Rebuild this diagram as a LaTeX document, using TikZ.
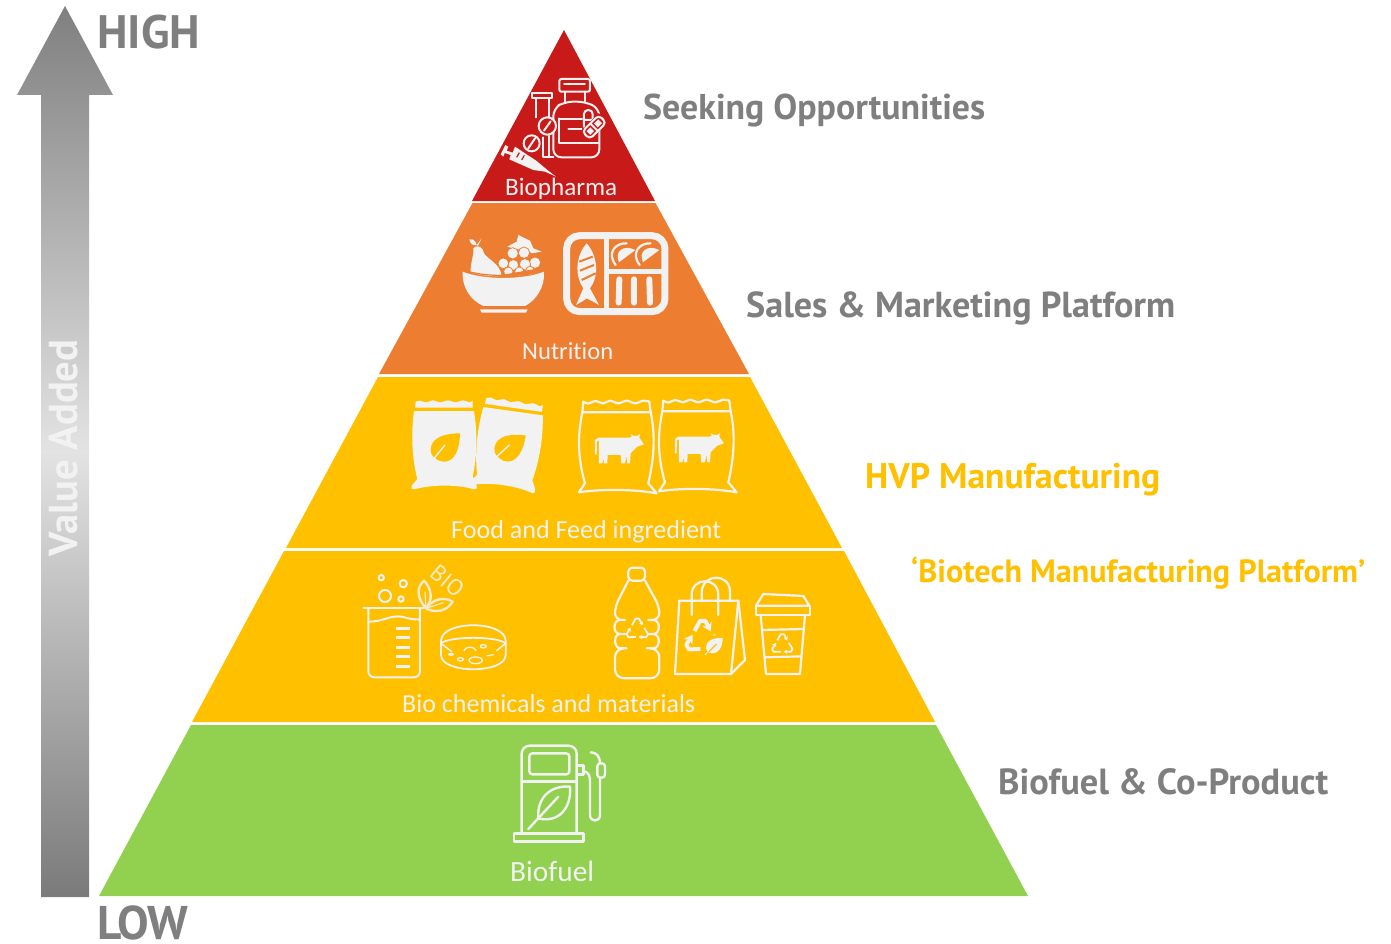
\documentclass[tikz,border=0pt]{standalone}
\usepackage{graphicx}
\usepackage{fontspec}
\setmainfont{PT Sans}
\newfontfamily\thinf[Ligatures=NoCommon]{Carlito}
\usetikzlibrary{arrows.meta}
\definecolor{pred}{HTML}{C81A19}
\definecolor{porange}{HTML}{ED7D31}
\definecolor{pyellow}{HTML}{FFC000}
\definecolor{pgreen}{HTML}{92D050}
\definecolor{ink}{HTML}{F2F2F2}
\definecolor{lab}{HTML}{7F7F7F}
\newcommand\fitw[2]{\resizebox{#1pt}{!}{#2}}
\newcommand\recyc[4]{\foreach \a in {0,120,240}{\draw[ink,shift={(#1,#2)},rotate=\a,line width=#4pt,line join=round,-{Stealth[length=#4*2.1pt,width=#4*2.6pt]}] ({-.42*#3},{-.38*#3}) -- ({-.14*#3},{-.9*#3}) -- ({.14*#3},{-.9*#3}) -- ({.42*#3},{-.36*#3});}}
\newcommand\zoomscope[2]{\begin{scope}[shift={(#1,#2)},x=0.3333pt,y=-0.3333pt]}
\tikzset{
  tier/.style={draw=none},
  inner/.style={text=ink,inner sep=0pt,anchor=base west,font=\thinf\fontsize{26}{26}\selectfont},
  side/.style={text=lab,inner sep=0pt,anchor=base west,font=\bfseries\fontsize{34}{34}\selectfont},
  sidey/.style={side,text=pyellow},
  ic/.style={draw=ink,line width=#1,line cap=round,line join=round,fill=none},
  ic/.default=2pt,
  icf/.style={fill=ink,draw=none}
}
\begin{document}
\begin{tikzpicture}[x=1pt,y=-1pt]
\useasboundingbox (0,0) rectangle (1391,944);
\fill[white] (0,0) rectangle (1391,944);
% arrow
\shade[top color=black!50,bottom color=black!52,middle color=black!11]
  (65,6) -- (113,95) -- (89,95) -- (89,897) -- (41,897) -- (41,95) -- (17,95) -- cycle;
\node[rotate=90,anchor=base west,inner sep=0pt,text=ink,font=\bfseries\fontsize{34}{34}\selectfont] (valueadded) at (77,557) {\fitw{217}{Value Added}};
\node[side,font=\bfseries\fontsize{44}{44}\selectfont] (high) at (97,49) {\fitw{103}{HIGH}};
\node[side,font=\bfseries\fontsize{44}{44}\selectfont] (low) at (97,939) {\fitw{91}{LOW}};
% tiers
\fill[pred] (564,30) -- (655,201) -- (472,201) -- cycle;
\fill[porange] (472.5,203) -- (655.5,203) -- (749,374) -- (379,374) -- cycle;
\fill[pyellow] (378,377) -- (750,377) -- (842,548) -- (286,548) -- cycle;
\fill[pyellow] (284,551) -- (844,551) -- (935,722) -- (192,722) -- cycle;
\fill[pgreen] (191,725) -- (936,725) -- (1028,896) -- (99,896) -- cycle;
% side labels
\node[side] (seek) at (643,120) {\fitw{342}{Seeking Opportunities}};
\node[side] (sales) at (746,317) {\fitw{429}{Sales \& Marketing Platform}};
\node[sidey] (hvp) at (865,488) {\fitw{295}{HVP Manufacturing}};
\node[sidey,font=\bfseries\fontsize{30}{30}\selectfont] (biotech) at (911,582) {\fitw{454}{‘Biotech Manufacturing Platform’}};
\node[side] (biofuelco) at (998,794) {\fitw{330}{Biofuel \& Co-Product}};
% inner labels
\node[inner] (biopharma) at (505,196) {\fitw{112}{Biopharma}};
\node[inner] (nutrition) at (522,359) {\fitw{91}{Nutrition}};
\node[inner] (food) at (451,538) {\fitw{270}{Food and Feed ingredient}};
\node[inner] (biochem) at (402,712) {\fitw{293}{Bio chemicals and materials}};
\node[inner] (biofuel) at (510,881) {\fitw{84}{Biofuel}};

% ---- biopharma icon
\zoomscope{470}{60}
 \draw[ic=2pt,rounded corners=2pt] (268,57) rectangle (360,95);
 \draw[ic=1.6pt] (282,72) -- (345,72);
 \draw[ic=2pt] (285,95) -- (285,125) (345,95) -- (345,125);
 \draw[ic=2pt,rounded corners=8pt] (285,125) -- (250,145) -- (250,292) -- (388,292) -- (388,145) -- (345,125) -- cycle;
 \draw[ic=1.8pt] (268,175) -- (268,250) -- (385,250) (270,178) -- (340,178) (295,207) -- (335,207);
 \draw[ic=2pt] (185,100) rectangle (245,115);
 \draw[ic=2pt] (197,115) -- (197,172) (238,115) -- (238,170) (238,228) -- (238,290) -- (250,290) (218,232) -- (218,290) -- (238,290);
 \fill[pred] (232,198) circle (27);
 \draw[ic=2pt] (232,198) circle (26) (222,212) -- (242,184);
 \fill[pred] (185,250) circle (25);
 \draw[ic=2pt] (185,250) circle (24) (175,265) -- (195,235);
 \fill[pred,rounded corners=3pt] (338,148) rectangle (372,212);
 \draw[ic=2pt,rounded corners=4pt] (342,150) rectangle (368,210) (342,180) -- (368,180);
 \begin{scope}[shift={(372,202)},rotate=45]
  \fill[pred] (-40,-20) rectangle (40,20);
  \draw[ic=2pt,rounded corners=4pt] (-34,-16) rectangle (36,16) (0,-16) -- (0,16);
  \fill[ink] (-24,-8) rectangle (-8,8);
  \fill[ink] (8,-8) rectangle (26,8);
 \end{scope}
 \fill[ink] (92,283) -- (106,255) -- (115,260) -- (110,272) -- (128,278) -- (135,260) -- (200,303) -- (232,330) -- (258,350) -- (225,335) -- (190,330) -- (118,298) -- (122,285) -- (104,279) -- (100,290) -- cycle;
 \draw[pred,line width=1.2pt] (140,292) -- (148,278) (155,300) -- (163,286);
\end{scope}

% ---- nutrition icons
\zoomscope{450}{220}
 \fill[ink] (38,155) .. controls (100,180) and (220,180) .. (282,155) .. controls (285,200) and (260,240) .. (225,258) -- (100,258) .. controls (60,240) and (35,200) .. (38,155) -- cycle;
 \fill[ink] (90,268) -- (233,268) -- (228,278) -- (95,278) -- cycle;
 \fill[ink] (62,158) .. controls (60,130) and (72,110) .. (70,85) .. controls (85,70) and (100,85) .. (102,100) .. controls (115,120) and (150,130) .. (155,168) .. controls (120,170) and (90,165) .. (62,158) -- cycle;
 \fill[ink] (58,58) .. controls (70,55) and (78,65) .. (80,75) .. controls (68,78) and (60,70) .. (58,58) -- cycle (80,75) -- (95,55) -- (84,78) -- cycle;
 \fill[ink] (172,80) -- (200,65) -- (205,45) -- (225,55) -- (240,62) -- (250,85) -- (275,95) -- (245,100) -- (230,88) -- (200,88) -- cycle;
 \foreach \cx/\cy/\r in {188/100/17,222/98/17,255/128/17,225/133/17,190/135/16,160/130/16,175/155/14,208/155/14,240/152/13}
   \filldraw[fill=ink,draw=porange,line width=0.7pt] (\cx,\cy) circle (\r);
 \draw[porange,line width=1.2pt] (40,150) .. controls (100,172) and (220,172) .. (282,150);
 \fill[porange] (150,166) -- (282,142) -- (285,151) .. controls (220,169) and (180,170) .. (150,170) -- cycle;
 \draw[ic=7pt,rounded corners=13pt] (350,47) rectangle (645,275);
 \draw[ink,line width=5pt] (470,47) -- (470,275) (470,155) -- (645,155);
 \fill[ink] (410,70) .. controls (375,110) and (375,170) .. (400,205) -- (378,255) .. controls (395,245) and (405,240) .. (410,235) .. controls (420,240) and (430,245) .. (447,255) -- (420,205) .. controls (447,170) and (445,110) .. (410,70) -- cycle;
 \draw[porange,line width=2pt] (388,125) -- (428,110) (390,152) -- (432,135) (395,180) -- (437,160);
 \foreach \dx in {0,72}{
  \fill[ink,shift={(\dx,0)}] (507,127) .. controls (492,95) and (520,72) .. (556,90) -- cycle;
  \draw[ic=2.2pt,shift={(\dx,0)}] (497,135) .. controls (470,100) and (495,68) .. (530,70);
 }
 \draw[ink,line width=6pt,line cap=round] (508,178) -- (506,248) (552,178) -- (552,248) (598,178) -- (600,248);
\end{scope}

% ---- feed bags
\zoomscope{400}{385}
 \foreach \dx in {0,1}{
 \begin{scope}[shift={(193*\dx,0)},rotate around={-8*\dx:(135,180)}]
  \fill[ink] (45,68) -- plot[smooth] coordinates {(47,50)(60,47)(78,52)(100,46)(120,52)(145,46)(165,52)(190,46)(208,52)(218,47)} -- (218,68) -- cycle;
  \fill[ink] (42,78) -- (222,78) .. controls (232,140) and (232,210) .. (218,275) -- (230,300) .. controls (232,312) and (228,315) .. (222,313) .. controls (170,298) and (100,298) .. (42,313) .. controls (35,315) and (33,310) .. (35,302) -- (52,282) .. controls (35,220) and (33,140) .. (42,78) -- cycle;
  \fill[pyellow] (180,145) .. controls (140,145) and (92,155) .. (92,195) .. controls (92,205) and (95,210) .. (100,215) .. controls (130,245) and (178,235) .. (180,145) -- cycle;
  \draw[ink,line width=1.4pt,line cap=round] (90,235) -- (135,180);
 \end{scope}}
 \foreach \dx/\dy in {0/0,240/-3}{
 \begin{scope}[shift={(\dx,\dy)}]
  \draw[ic=2.2pt] plot[smooth] coordinates {(550,50)(565,56)(585,48)(610,55)(630,47)(655,55)(680,47)(705,55)(730,47)(748,50)};
  \draw[ic=2.2pt] (550,50) -- (547,82) (748,50) -- (752,82) (547,82) -- (752,82);
  \draw[ic=2.2pt] (547,82) .. controls (535,140) and (530,210) .. (555,295) -- (537,322) .. controls (600,312) and (700,312) .. (770,325) -- (745,295) .. controls (765,210) and (765,140) .. (752,82);
  \fill[ink] (595,158) -- (688,158) -- (696,155) -- (692,148) -- (703,153) -- (712,153) -- (720,147) -- (718,158) -- (732,178) -- (712,185) -- (692,205) -- (690,235) -- (682,235) -- (680,212) -- (675,235) -- (664,235) -- (662,210) -- (623,210) -- (622,235) -- (612,235) -- (612,218) -- (607,235) -- (597,235) -- (597,165) -- (591,170) -- (590,208) -- (585,208) -- (585,165) -- cycle;
 \end{scope}}
\end{scope}

% ---- beaker and dish
\zoomscope{350}{560}
 \draw[ic=2pt,rounded corners=6pt] (55,148) -- (55,352) -- (210,352) -- (210,148);
 \draw[ic=2pt] (40,145) -- (222,145);
 \draw[ic=2pt] (58,185) .. controls (100,185) and (120,165) .. (155,170) .. controls (175,175) and (190,180) .. (210,178);
 \foreach \ty in {205,232,262,290,320} \draw[ink,line width=2.8pt] (138,\ty) -- (180,\ty);
 \draw[ic=2pt] (94,53) circle (8) (160,71) circle (11) (105,108) circle (18) (153,117) circle (8);
 \draw[ic=2.4pt,ink!85!pyellow] (228,145) .. controls (205,120) and (195,85) .. (222,62) .. controls (245,85) and (250,120) .. (228,145);
 \draw[ic=2.4pt,ink!85!pyellow] (228,145) .. controls (250,115) and (285,110) .. (308,125) .. controls (290,155) and (255,160) .. (228,145);
 \draw[ink!85!pyellow,line width=1.2pt] (228,145) -- (225,95) (228,145) -- (280,128);
 \node[rotate=-40,text=ink!85!pyellow,inner sep=0pt,font=\fontsize{23}{23}\selectfont] (bio) at (292,64) {BIO};
 \draw[ic=1.8pt] (273,243) .. controls (273,180) and (467,180) .. (467,243);
 \draw[ic=1.8pt] (273,243) -- (273,285) .. controls (273,342) and (467,342) .. (467,285) -- (467,243);
 \draw[ic=1.8pt] (273,250) .. controls (300,228) and (440,228) .. (467,250);
 \draw[ic=1.5pt] (273,250) -- (305,275) (467,250) -- (440,272);
 \draw[ic=1.3pt] (400,259) ellipse (9 and 5) (331,298) ellipse (9 and 5) (377,301) ellipse (20 and 10) (303,283) ellipse (7 and 2.5);
 \draw[ic=1.3pt] (342,272) .. controls (345,258) and (375,258) .. (378,272) (410,288) -- (430,284);
\end{scope}

% ---- bottle, bag, cup
\zoomscope{600}{560}
 \draw[ic=2.2pt,rounded corners=4pt] (85,23) rectangle (135,62);
 \draw[ic=2.2pt,rounded corners=7pt] (85,62) -- (45,140) -- (45,180) -- (75,180);
 \draw[ic=2.2pt,rounded corners=7pt] (135,62) -- (178,140) -- (178,180) -- (145,180);
 \draw[ic=2.2pt] (75,222) -- (60,222) .. controls (38,222) and (38,180) .. (60,180) (145,222) -- (160,222) .. controls (182,222) and (182,180) .. (160,180);
 \draw[ic=2.2pt] (80,265) -- (62,265) .. controls (40,265) and (40,222) .. (60,222) (140,265) -- (160,265) .. controls (182,265) and (182,222) .. (160,222);
 \draw[ic=2.2pt,rounded corners=9pt] (62,265) -- (45,265) -- (45,355) -- (178,355) -- (178,265) -- (160,265);
 \recyc{112}{210}{38}{1.8}
 \draw[ic=2.2pt] (238,122) -- (415,122) -- (393,342) -- (225,342) -- cycle;
 \draw[ic=2.2pt] (415,122) -- (435,300) -- (393,342);
 \draw[ic=2.2pt] (275,165) -- (275,105) .. controls (275,50) and (355,50) .. (355,105) -- (355,165);
 \draw[ic=2.2pt] (305,122) -- (305,95) .. controls (310,38) and (390,40) .. (390,95) -- (390,122);
 \recyc{308}{235}{58}{4}
 \fill[pyellow] (342,258) circle (32);
 \fill[ink] (368,234) .. controls (335,232) and (318,245) .. (318,262) .. controls (318,272) and (325,278) .. (335,280) .. controls (355,282) and (368,262) .. (368,234) -- cycle;
 \draw[pyellow,line width=1pt] (322,280) -- (350,252);
 \draw[ink,line width=1pt] (315,285) -- (325,274);
 \draw[ic=2.2pt] (490,102) -- (610,108) -- (628,137) -- (468,137) -- cycle;
 \draw[ic=2.2pt] (468,137) rectangle (630,165);
 \draw[ic=2.2pt] (482,165) -- (498,342) -- (600,342) -- (615,165);
 \draw[ic=2.2pt] (487,210) -- (611,207) (494,292) -- (604,289);
 \recyc{547}{255}{36}{1.8}
\end{scope}

% ---- fuel pump
\zoomscope{500}{735}
 \draw[ic=2.4pt,rounded corners=8pt] (65,292) -- (65,32) -- (230,32) -- (230,292);
 \draw[ic=2.4pt,rounded corners=3pt] (88,55) rectangle (208,118);
 \draw[ic=2.4pt] (65,140) -- (230,140);
 \draw[ic=2.4pt] (42,295) rectangle (250,320);
 \draw[ic=2.4pt] (210,155) .. controls (150,150) and (110,190) .. (115,250) .. controls (175,265) and (215,220) .. (210,155) -- cycle;
 \draw[ic=2.4pt] (85,282) -- (175,185);
 \draw[ic=2.4pt] (232,92) -- (250,92) -- (250,118) -- (232,118);
 \draw[ic=2.4pt] (250,108) .. controls (268,112) and (270,125) .. (270,140) -- (270,240) .. controls (270,262) and (300,262) .. (300,240) -- (300,130);
 \draw[ic=2.4pt,rounded corners=3pt] (292,85) rectangle (315,128);
 \draw[ic=2.4pt] (272,52) .. controls (290,52) and (300,65) .. (300,85);
\end{scope}
\end{tikzpicture}
\end{document}
